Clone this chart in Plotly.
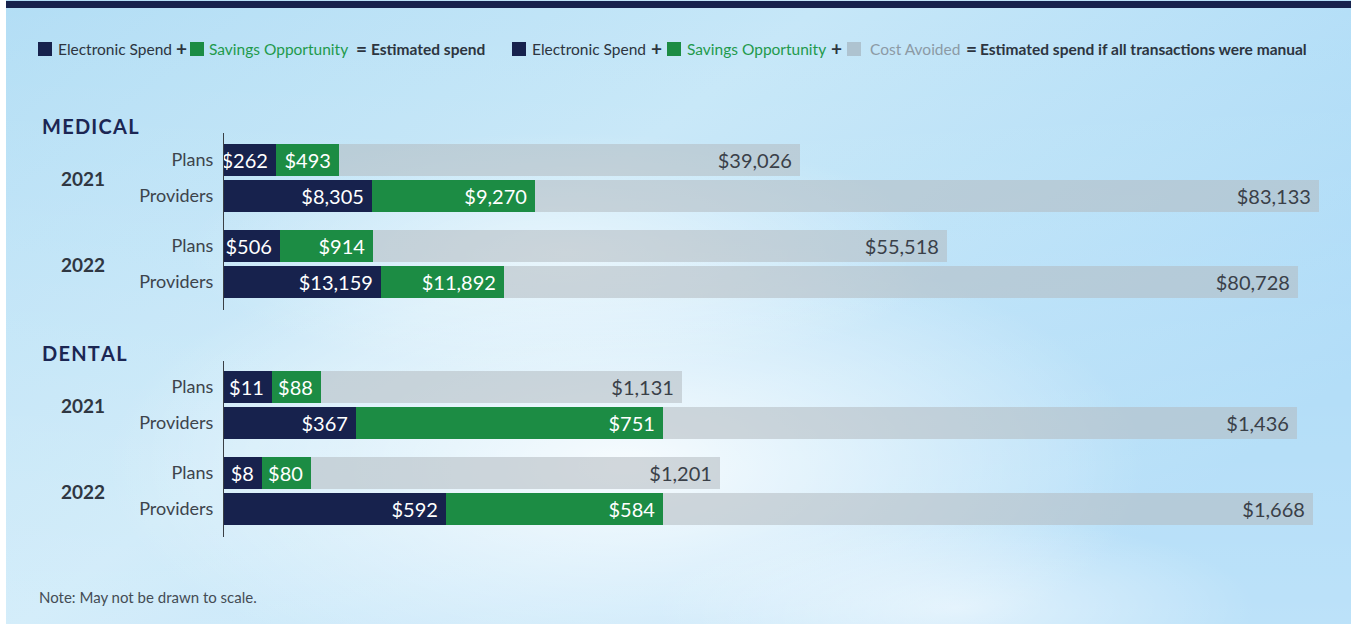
import base64
import plotly.graph_objects as go

# ---------------- data ----------------
sections = ["MEDICAL", "DENTAL"]
years = ["2021", "2022"]
payers = ["Plans", "Providers"]

# order: Medical 2021 (Plans, Providers), Medical 2022, Dental 2021, Dental 2022
electronic_spend = [262, 8305, 506, 13159, 11, 367, 8, 592]
savings_opportunity = [493, 9270, 914, 11892, 88, 751, 80, 584]
estimated_manual_spend = [39026, 83133, 55518, 80728, 1131, 1436, 1201, 1668]

# drawn segment lengths (the chart is "not drawn to scale")
drawn_electronic = [52, 148, 56, 157, 48, 132, 38, 222]
drawn_savings = [63, 163, 93, 123, 49, 307, 49, 217]
drawn_cost_avoided = [461, 784, 574, 794, 361, 634, 409, 650]

# ---------------- style ----------------
W, H = 1351, 624
NAVY = "#17224d"
GREEN = "#1c8c44"
GRAY = "rgba(178,186,191,0.55)"
TXT = "#3a4048"
FONT = "Lato"


def px_y(p):
    return 1 - p / H


def px_x(p):
    return p / W


def money(v):
    return "${:,}".format(v)


def label(v, length):
    # add a little right padding when the segment has room for it
    s = money(v)
    return s + "\u00a0" if length >= 11 * len(s) + 8 else s


# background gradient image
svg = f"""<svg xmlns='http://www.w3.org/2000/svg' width='1345' height='616' viewBox='0 0 1345 616' preserveAspectRatio='none'>
<defs>
<linearGradient id='g' x1='0' y1='0' x2='1' y2='0.6'>
<stop offset='0' stop-color='#b3def5'/>
<stop offset='0.45' stop-color='#c6e7f8'/>
<stop offset='1' stop-color='#a6d8f7'/>
</linearGradient>
<radialGradient id='r1'>
<stop offset='0' stop-color='#ffffff' stop-opacity='0.85'/>
<stop offset='1' stop-color='#ffffff' stop-opacity='0'/>
</radialGradient>
<radialGradient id='r2'>
<stop offset='0' stop-color='#ffffff' stop-opacity='0.55'/>
<stop offset='1' stop-color='#ffffff' stop-opacity='0'/>
</radialGradient>
<linearGradient id='b' x1='0' y1='0' x2='0' y2='1'>
<stop offset='0' stop-color='#ffffff' stop-opacity='0'/>
<stop offset='1' stop-color='#ffffff' stop-opacity='0.25'/>
</linearGradient>
</defs>
<rect width='1345' height='616' fill='url(#g)'/>
<rect width='1345' height='616' fill='url(#b)'/>
<ellipse cx='620' cy='460' rx='520' ry='230' fill='url(#r1)'/>
<ellipse cx='560' cy='250' rx='380' ry='120' fill='url(#r2)'/>
<ellipse cx='950' cy='600' rx='300' ry='90' fill='url(#r2)'/>
</svg>"""
bg_src = "data:image/svg+xml;base64," + base64.b64encode(svg.encode()).decode()

# subplot bands in pixels (top, bottom) for each section-year group
bands_px = [(142, 214), (228, 300), (369, 441), (455, 527)]
yaxes = ["y", "y2", "y3", "y4"]

fig = go.Figure()

seg_specs = [
    (drawn_electronic, electronic_spend, NAVY, "white", "Electronic Spend"),
    (drawn_savings, savings_opportunity, GREEN, "white", "Savings Opportunity"),
    (drawn_cost_avoided, estimated_manual_spend, GRAY, TXT, "Cost Avoided"),
]

for g, ya in enumerate(yaxes):
    idx = [2 * g, 2 * g + 1]
    for lengths, labels, color, tcolor, name in seg_specs:
        fig.add_trace(go.Bar(
            orientation="h",
            y=payers,
            x=[lengths[i] for i in idx],
            text=[label(labels[i], lengths[i]) for i in idx],
            textposition="inside",
            insidetextanchor="end",
            textangle=0,
            textfont=dict(family=FONT, size=20, color=tcolor),
            marker=dict(color=color, line=dict(width=0)),
            name=name,
            showlegend=False,
            hoverinfo="skip",
            xaxis="x",
            yaxis=ya,
        ))

layout = dict(
    width=W, height=H,
    margin=dict(l=0, r=0, t=0, b=0),
    paper_bgcolor="white",
    plot_bgcolor="rgba(0,0,0,0)",
    barmode="stack",
    bargap=1 - 32 / 36,
    uniformtext=dict(minsize=20, mode="show"),
    font=dict(family=FONT, color=TXT),
    xaxis=dict(domain=[px_x(224), 1], range=[0, 1127], visible=False, fixedrange=True),
    showlegend=False,
)
for g, ya in enumerate(yaxes):
    top, bot = bands_px[g]
    key = "yaxis" if ya == "y" else "yaxis" + ya[1:]
    layout[key] = dict(
        domain=[px_y(bot), px_y(top)],
        anchor="x",
        type="category",
        categoryorder="array",
        categoryarray=payers,
        autorange="reversed",
        showgrid=False, zeroline=False, showline=False,
        ticks="outside", ticklen=6, tickcolor="rgba(0,0,0,0)",
        tickfont=dict(family=FONT, size=18, color="#3d444c"),
    )
fig.update_layout(**layout)

# background image
fig.add_layout_image(dict(
    source=bg_src, xref="paper", yref="paper",
    x=px_x(6), y=1, sizex=1 - px_x(6), sizey=1,
    sizing="stretch", layer="below", xanchor="left", yanchor="top",
))

shapes = []
# top navy band
shapes.append(dict(type="rect", xref="paper", yref="paper", x0=px_x(6), x1=1,
                   y0=px_y(8), y1=px_y(1), fillcolor=NAVY, line=dict(width=0)))
# vertical baseline for each section
for y0, y1 in [(133, 310), (361, 537)]:
    shapes.append(dict(type="line", xref="paper", yref="paper", x0=px_x(223.5), x1=px_x(223.5),
                       y0=px_y(y1), y1=px_y(y0), line=dict(color="#3a3f45", width=1)))

annotations = []
# section titles
hair = "\u200a"
for title, ypx in zip(sections, [126, 353]):
    annotations.append(dict(
        text="<b>" + hair.join(title) + "</b>", xref="paper", yref="paper",
        x=px_x(40), y=px_y(ypx), xanchor="left", yanchor="middle", showarrow=False,
        font=dict(family=FONT, size=20, color="#1b2653"),
    ))
# year labels
for g, ya in enumerate(yaxes):
    annotations.append(dict(
        text="<b>" + years[g % 2] + "</b>", xref="paper", yref=ya + " domain",
        x=px_x(83), y=0.5, xanchor="center", yanchor="middle", showarrow=False,
        font=dict(family=FONT, size=19, color="#2f3742"),
    ))

# legend row
LEG_Y = px_y(49)
sq = [(38, NAVY), (190, GREEN), (512, NAVY), (667, GREEN), (847, "#aec3d0")]
for x0, c in sq:
    shapes.append(dict(type="rect", xref="paper", yref="paper", x0=px_x(x0), x1=px_x(x0 + 14),
                       y0=px_y(56), y1=px_y(42), fillcolor=c, line=dict(width=0)))
leg_items = [
    (56, "Electronic Spend", "#2d3540", False),
    (174, "+", "#2d3540", True),
    (207, "Savings Opportunity", "#1f9a4c", False),
    (354, "=", "#2d3540", True),
    (369, "Estimated spend", "#2d3540", True),
    (530, "Electronic Spend", "#2d3540", False),
    (649, "+", "#2d3540", True),
    (685, "Savings Opportunity", "#1f9a4c", False),
    (829, "+", "#2d3540", True),
    (868, "Cost Avoided", "#8c9aa5", False),
    (964, "=", "#2d3540", True),
    (978, "Estimated spend if all transactions were manual", "#2d3540", True),
]
for x0, t, c, b in leg_items:
    annotations.append(dict(
        text=("<b>" + t + "</b>") if b else t, xref="paper", yref="paper",
        x=px_x(x0), y=LEG_Y, xanchor="left", yanchor="middle", showarrow=False,
        font=dict(family=FONT, size=19 if t in "+=" else 15.5, color=c),
    ))

# note
annotations.append(dict(
    text="Note: May not be drawn to scale.", xref="paper", yref="paper",
    x=px_x(37), y=px_y(597), xanchor="left", yanchor="middle", showarrow=False,
    font=dict(family=FONT, size=15, color="#444c55"),
))

fig.update_layout(shapes=shapes, annotations=annotations)
fig.write_html(
    "out.html",
    config={"displayModeBar": False},
    post_script="document.body.style.margin='0';document.body.style.overflow='hidden';",
)
